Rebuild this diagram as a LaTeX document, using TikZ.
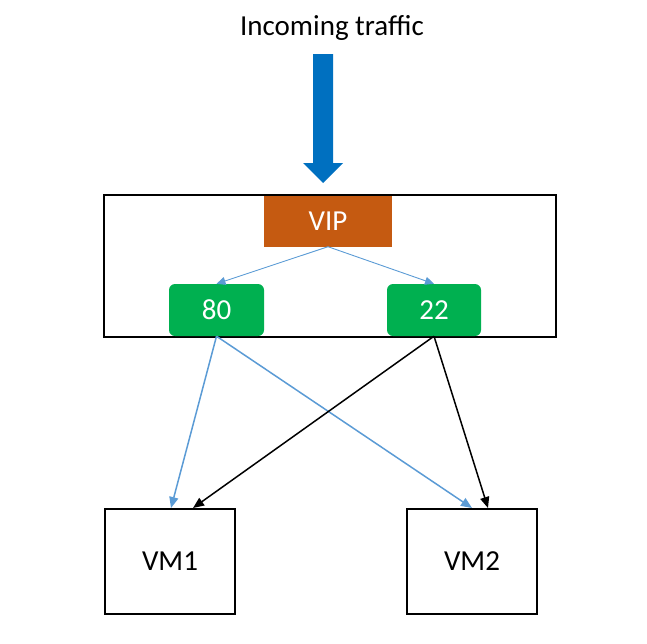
\documentclass[tikz,border=0pt]{standalone}
\usepackage{fontspec}
\setmainfont{Carlito}
\usetikzlibrary{arrows.meta}
\definecolor{vipc}{HTML}{C55A11}
\definecolor{portc}{HTML}{00B050}
\definecolor{arrc}{HTML}{0070C0}
\definecolor{linec}{HTML}{5B9BD5}
\begin{document}
\begin{tikzpicture}[x=1pt,y=-1pt,
  bigfont/.style={font=\fontsize{29}{34}\selectfont},
  frame/.style={draw=black,line width=2pt,inner sep=0pt},
  portbox/.style={fill=portc,rounded corners=6pt,text=white,bigfont,inner sep=0pt},
  vmbox/.style={draw=black,line width=1.8pt,inner sep=0pt,bigfont},
  thin/.style={draw=linec,line width=0.9pt,-{Triangle[length=9pt,width=8pt]}},
  blue/.style={draw=linec,line width=1.5pt,-{Triangle[length=11pt,width=9pt]}},
  blk/.style={draw=black,line width=1.5pt,-{Triangle[length=11pt,width=9pt]}}]
\useasboundingbox (0,0) rectangle (647,643);
\node[bigfont] (title) at (332,28) {Incoming traffic};
\fill[arrc] (313,54) -- (333,54) -- (333,163) -- (343,163) -- (323,183) -- (303,163) -- (313,163) -- cycle;
\node[frame,minimum width=452pt,minimum height=142pt] (lb) at (330,266) {};
\node[fill=vipc,text=white,inner sep=0pt,minimum width=128pt,minimum height=51pt,bigfont] (vip) at (328,221) {VIP};
\node[portbox,minimum width=95pt,minimum height=52pt] (p80) at (216.5,310) {80};
\node[portbox,minimum width=94pt,minimum height=52pt] (p22) at (434,310) {22};
\node[vmbox,minimum width=130pt,minimum height=105pt] (vm1) at (170,561.5) {VM1};
\node[vmbox,minimum width=130pt,minimum height=105pt] (vm2) at (472,561.5) {VM2};
\draw[thin] (vip.south) -- (p80.north);
\draw[thin] (vip.south) -- (p22.north);
\coordinate (v1a) at (171,508);
\coordinate (v1b) at (193,508);
\coordinate (v2a) at (472,508);
\coordinate (v2b) at (488,508);
\draw[blue] (p80.south) -- (v1a);
\draw[blue] (p80.south) -- (v2a);
\draw[blk] (p22.south) -- (v1b);
\draw[blk] (p22.south) -- (v2b);
\end{tikzpicture}
\end{document}
